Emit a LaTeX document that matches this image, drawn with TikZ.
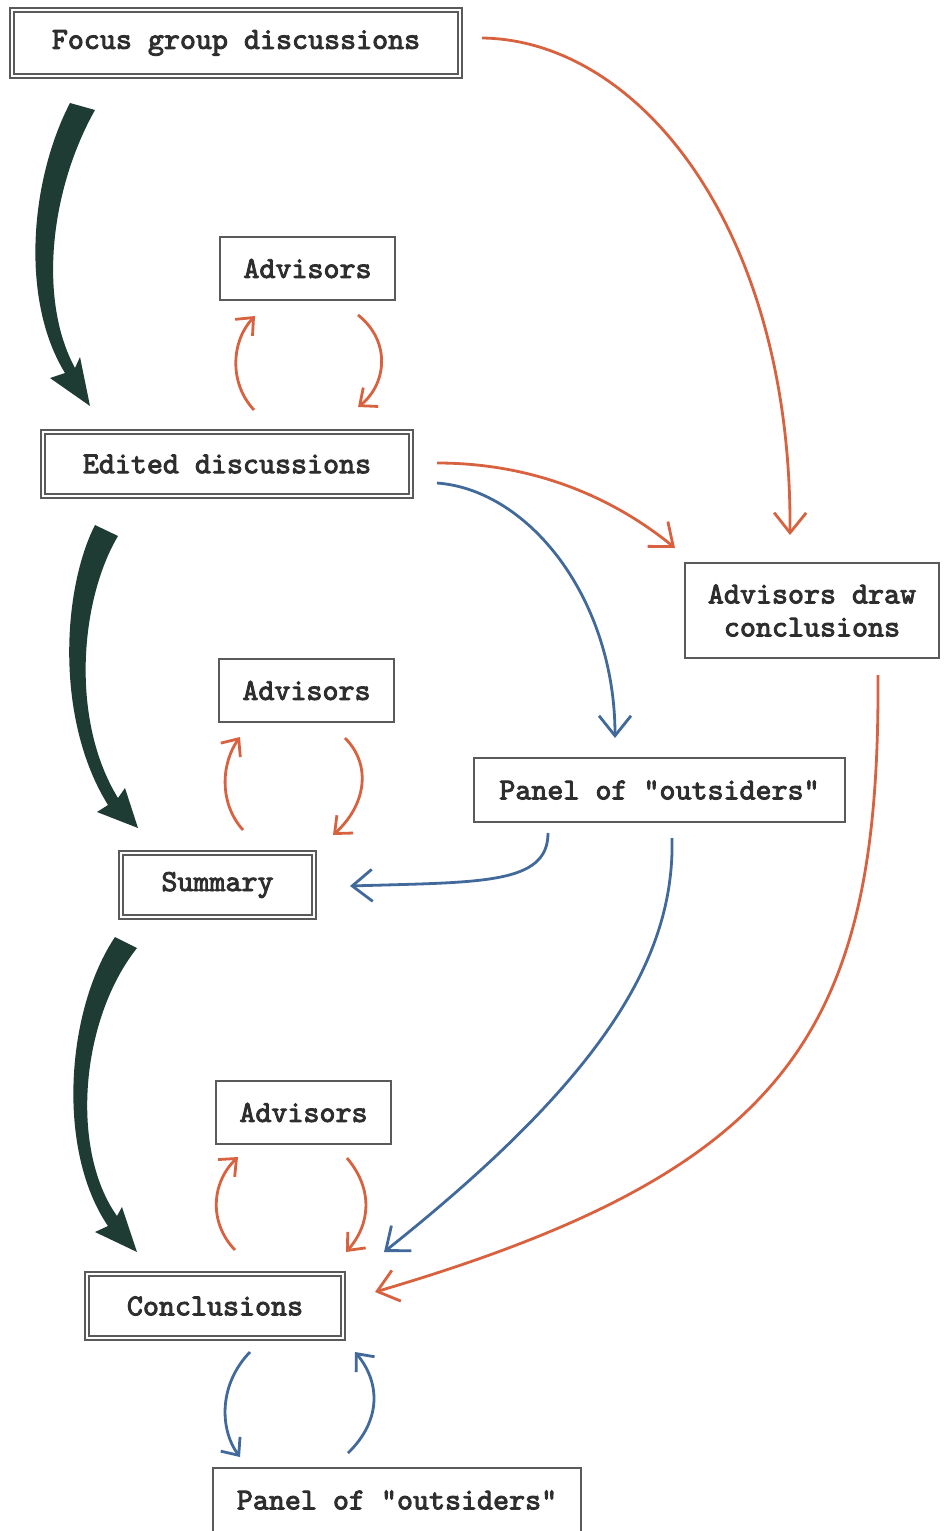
\documentclass[tikz,border=0pt]{standalone}
\usepackage{fontspec}
\newfontfamily\boxfont{lmmono10-regular.otf}[FakeBold=3]
\usetikzlibrary{arrows.meta}
\definecolor{orng}{HTML}{D8623F}
\definecolor{blu}{HTML}{41699A}
\definecolor{grn}{HTML}{1E3B34}
\definecolor{boxc}{HTML}{5A5A5A}
\definecolor{txt}{HTML}{2E2E2E}
\tikzset{
  lbl/.style={font=\fontsize{30.5}{33}\boxfont, text=txt, inner sep=0pt, align=center},
  sbox/.style={lbl, draw=boxc, line width=1.8pt},
  dbox/.style={lbl, draw=boxc, line width=1.8pt, double=white, double distance=2.6pt},
  thin/.style={line width=2.8pt, -{Straight Barb[length=14pt,width=24pt,line width=2.8pt]}},
  long/.style={line width=2.8pt, -{Straight Barb[length=20pt,width=32pt,line width=2.8pt]}},
  thick/.style={fill=grn},
}
\begin{document}
\begin{tikzpicture}[x=1pt,y=-1pt]
\useasboundingbox (0,0) rectangle (949,1531);
% nodes
\node[dbox, minimum width=448pt, minimum height=66pt] (focus) at (236,43) {Focus group discussions};
\node[sbox, minimum width=175pt, minimum height=63pt] (adv1) at (307.5,268.5) {Advisors};
\node[dbox, minimum width=368pt, minimum height=64pt] (edited) at (227,464) {Edited discussions};
\node[sbox, minimum width=254pt, minimum height=95pt] (adc) at (812,610.5) {Advisors draw\\conclusions};
\node[sbox, minimum width=175pt, minimum height=63pt] (adv2) at (306.5,690.5) {Advisors};
\node[sbox, minimum width=371pt, minimum height=64pt] (panel1) at (659.5,790) {Panel of "outsiders"};
\node[dbox, minimum width=193pt, minimum height=64pt] (summary) at (217.5,885) {Summary};
\node[sbox, minimum width=175pt, minimum height=63pt] (adv3) at (303.5,1112.5) {Advisors};
\node[dbox, minimum width=256pt, minimum height=64pt] (concl) at (215,1306) {Conclusions};
\node[sbox, minimum width=368pt, minimum height=64pt] (panel2) at (397,1500) {Panel of "outsiders"};
% connector end points
\coordinate (p1a) at (254,410);  \coordinate (p1b) at (255,316);
\coordinate (p1c) at (358,315);  \coordinate (p1d) at (358,407);
\coordinate (p2a) at (243,830);  \coordinate (p2b) at (240,737);
\coordinate (p2c) at (345,738);  \coordinate (p2d) at (333,835);
\coordinate (p3a) at (235,1250); \coordinate (p3b) at (238,1157);
\coordinate (p3c) at (347,1158); \coordinate (p3d) at (346,1252);
\coordinate (p4a) at (250,1352); \coordinate (p4b) at (240,1457);
\coordinate (p4c) at (348,1453); \coordinate (p4d) at (355,1352);
\coordinate (oAs) at (482,38);   \coordinate (oAe) at (790,535);
\coordinate (oBs) at (437,463);  \coordinate (oBe) at (675,548);
\coordinate (oCs) at (878,675);  \coordinate (oCe) at (375,1292);
\coordinate (bDs) at (437,483);  \coordinate (bDe) at (615,738);
\coordinate (bEs) at (548,833);  \coordinate (bEe) at (350,886);
\coordinate (bFs) at (672,838);  \coordinate (bFe) at (384,1252);
% thick green tapered arrows
\path[thick] (70,103) .. controls (30,180) and (20,300) .. (65,373) -- (50,378) -- (90,406) -- (80,357) -- (75,368) .. controls (38,300) and (50,190) .. (95,110) -- cycle;
\path[thick] (95,525) .. controls (62,590) and (55,720) .. (108,805) -- (97,812) -- (138,828) -- (125,788) -- (118,798) .. controls (70,720) and (80,600) .. (118,536) -- cycle;
\path[thick] (115,937) .. controls (66,1010) and (56,1150) .. (108,1226) -- (95,1232) -- (137,1252) -- (122,1207) -- (117,1216) .. controls (70,1150) and (80,1020) .. (137,948) -- cycle;
% small orange loops
\draw[thin, orng] (p1a) .. controls (228,382) and (232,340) .. (p1b);
\draw[thin, orng] (p1c) .. controls (392,342) and (386,385) .. (p1d);
\draw[thin, orng] (p2a) .. controls (218,802) and (222,762) .. (p2b);
\draw[thin, orng] (p2c) .. controls (372,765) and (366,805) .. (p2d);
\draw[thin, orng] (p3a) .. controls (208,1222) and (212,1182) .. (p3b);
\draw[thin, orng] (p3c) .. controls (374,1190) and (370,1225) .. (p3d);
% bottom blue loop
\draw[thin, blu] (p4a) .. controls (218,1385) and (220,1430) .. (p4b);
\draw[thin, blu] (p4c) .. controls (382,1420) and (380,1382) .. (p4d);
% long orange arrows
\draw[long, orng] (oAs) .. controls (640,40) and (792,230) .. (oAe);
\draw[long, orng] (oBs) .. controls (530,463) and (610,495) .. (oBe);
\draw[long, orng] (oCs) .. controls (880,1030) and (790,1170) .. (oCe);
% long blue arrows
\draw[long, blu] (bDs) .. controls (530,490) and (615,600) .. (bDe);
\draw[long, blu] (bEs) .. controls (548,885) and (480,882) .. (bEe);
\draw[long, blu] (bFs) .. controls (675,960) and (600,1080) .. (bFe);
\end{tikzpicture}
\end{document}
